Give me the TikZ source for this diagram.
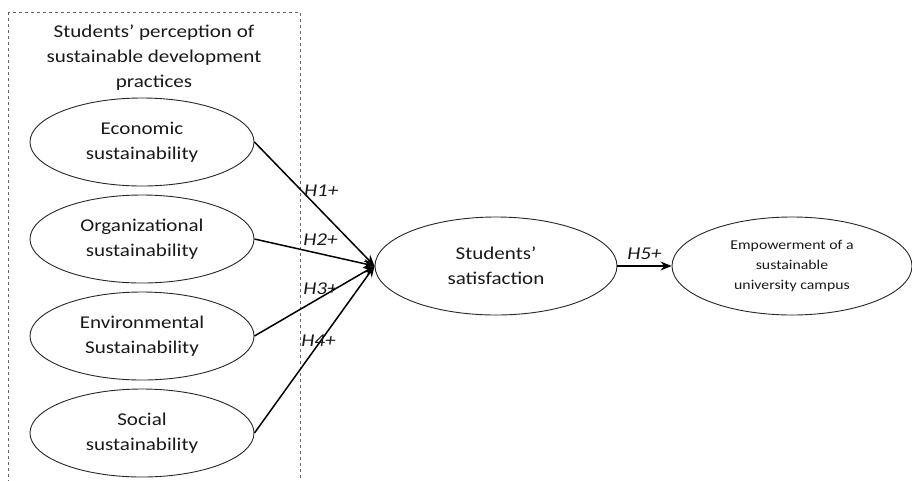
\documentclass[tikz,border=0pt]{standalone}
\usepackage{fontspec}
\setmainfont{Carlito}[FakeStretch=1.17]
\usepackage{tikz}
\usetikzlibrary{shapes.geometric, arrows.meta}
\tikzstyle{construct} = [ellipse, minimum width=224pt, minimum height=88pt, text centered, align=center, draw=black!85, line width=0.9pt, text=black!90, font=\fontsize{18}{25}\selectfont]
\tikzstyle{outcome} = [ellipse, minimum width=242pt, minimum height=98pt, text centered, align=center, draw=black!85, line width=0.9pt, text=black!90, font=\fontsize{18}{25}\selectfont]
\tikzstyle{hyp} = [font=\fontsize{18}{22}\selectfont\itshape, text=black!90, inner sep=2pt]
\tikzstyle{arrow} = [line width=1.5pt, -{Stealth[length=11pt, width=9pt]}]
\tikzstyle{frame} = [dashed, draw=black!60, line width=0.8pt]

\begin{document}
\begin{tikzpicture}[x=1pt, y=1pt, node distance=97pt]
\useasboundingbox (0,0) rectangle (912,-480);
\draw[frame] (8,-12) rectangle (300,-492);
\node (title) [align=center, text=black!90, font=\fontsize{18}{25}\selectfont] at (154,-58) {Students' perception of\\sustainable development\\practices};
\node (eco) [construct] at (142,-142) {Economic\\sustainability};
\node (org) [construct, below of=eco] {Organizational\\sustainability};
\node (env) [construct, below of=org] {Environmental\\Sustainability};
\node (soc) [construct, below of=env] {Social\\sustainability};
\node (sat) [outcome] at (496,-266) {Students'\\satisfaction};
\node (emp) [outcome, right of=sat, node distance=296pt, minimum width=240pt, font=\fontsize{13.5}{20}\selectfont] {Empowerment of a\\sustainable\\university campus};

\draw[arrow] (eco.east) -- node[hyp, pos=0.39, anchor=west] {H1+} (sat.west);
\draw[arrow] (org.east) -- node[hyp, pos=0.55, above, yshift=6pt] {H2+} (sat.west);
\draw[arrow] (env.east) -- node[hyp, pos=0.55, above] {H3+} (sat.west);
\draw[arrow] (soc.east) -- node[hyp, pos=0.5, above, xshift=4pt] {H4+} (sat.west);
\draw[arrow] (sat) -- node[hyp, above, yshift=4pt] {H5+} (emp);
\end{tikzpicture}
\end{document}
